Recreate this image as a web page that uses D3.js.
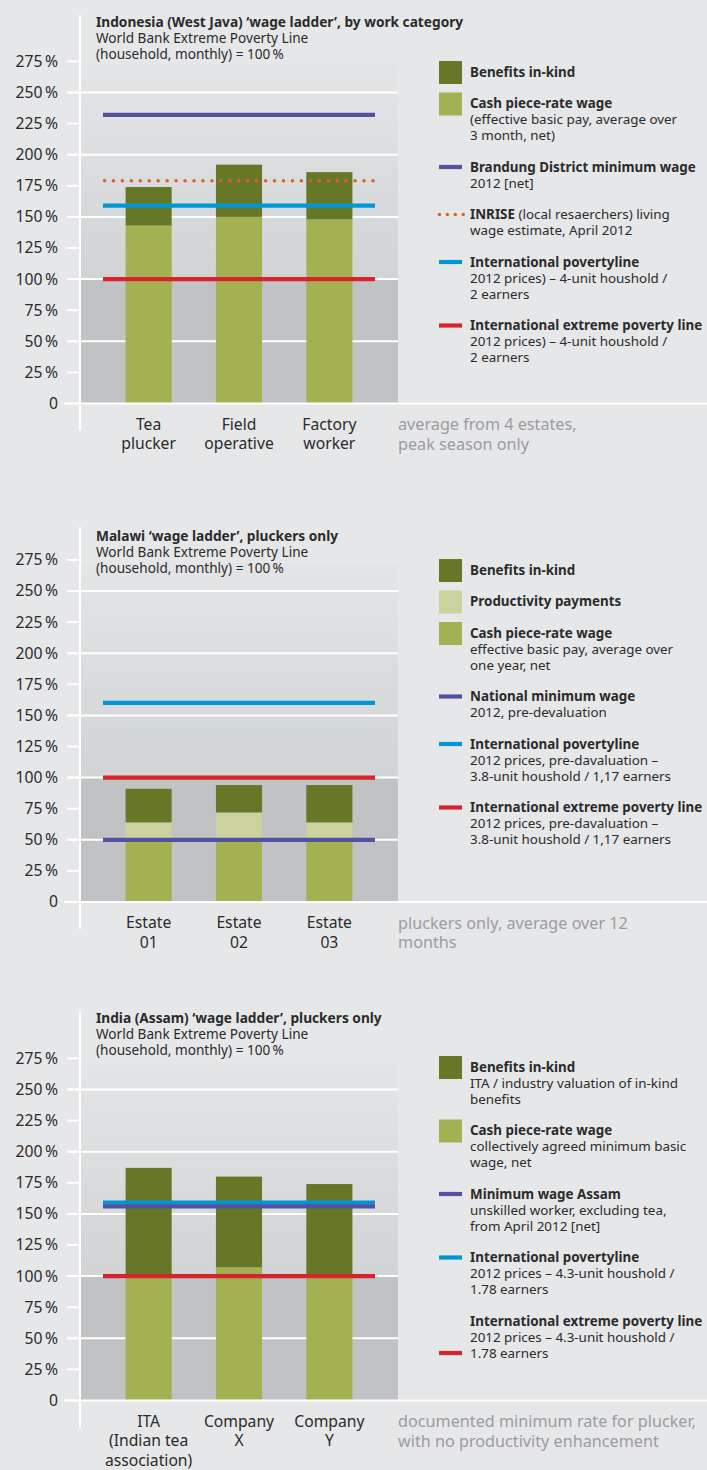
<!DOCTYPE html>
<html>
<head>
<meta charset="utf-8">
<script src="https://cdn.jsdelivr.net/npm/d3@7/dist/d3.min.js"></script>
<style>
  html, body { margin: 0; padding: 0; background: #e6e7e9; }
  svg { display: block; font-family: "Noto Sans", Roboto, sans-serif; }
</style>
</head>
<body>
<svg id="chart" width="707" height="1470"></svg>
<script>
// ---------- DATA ----------
const yTickValues = [0, 25, 50, 75, 100, 125, 150, 175, 200, 225, 250, 275];
const yGridValues = [50, 100, 150, 200, 250];

// Panel 1: Indonesia
const indonesiaTitle = ["Indonesia (West Java) \u2018wage ladder\u2019, by work category", "World Bank Extreme Poverty Line", "(household, monthly) = 100\u2009%"];
const indonesiaCategories = [["Tea", "plucker"], ["Field", "operative"], ["Factory", "worker"]];
const indonesiaCash = [143, 150, 148];
const indonesiaBenefits = [31, 42, 38];
const indonesiaLineKeys = ["minwage", "inrise", "poverty", "extreme"];
const indonesiaLineValues = [232, 179, 159, 100];
const indonesiaNote = ["average from 4 estates,", "peak season only"];

// Panel 2: Malawi
const malawiTitle = ["Malawi \u2018wage ladder\u2019, pluckers only", "World Bank Extreme Poverty Line", "(household, monthly) = 100\u2009%"];
const malawiCategories = [["Estate", "01"], ["Estate", "02"], ["Estate", "03"]];
const malawiCash = [50, 50, 50];
const malawiProductivity = [14, 22, 14];
const malawiBenefits = [27, 22, 30];
const malawiLineKeys = ["minwage", "poverty", "extreme"];
const malawiLineValues = [50, 160, 100];
const malawiNote = ["pluckers only, average over 12", "months"];

// Panel 3: India
const indiaTitle = ["India (Assam) \u2018wage ladder\u2019, pluckers only", "World Bank Extreme Poverty Line", "(household, monthly) = 100\u2009%"];
const indiaCategories = [["ITA", "(Indian tea", "association)"], ["Company", "X"], ["Company", "Y"]];
const indiaCash = [100, 107, 100];
const indiaBenefits = [87, 73, 74];
const indiaLineKeys = ["poverty", "minwage", "extreme"];
const indiaLineValues = [159, 156, 100];
const indiaNote = ["documented minimum rate for plucker,", "with no productivity enhancement"];

// ---------- STYLE ----------
const colors = {
  benefits: "#667828",
  productivity: "#cbd29d",
  cash: "#a3b152",
  minwage: "#5352a0",
  inrise: "#e0602a",
  poverty: "#0096d6",
  extreme: "#d7242c"
};

const indonesiaLegend = [
  { mark: "swatch", key: "benefits", bold: "Benefits in-kind", lines: [] },
  { mark: "swatch", key: "cash", bold: "Cash piece-rate wage", lines: ["(effective basic pay, average over", "3 month, net)"] },
  { mark: "line", key: "minwage", bold: "Brandung District minimum wage", lines: ["2012 [net]"] },
  { mark: "dots", key: "inrise", bold: "INRISE", inline: " (local resaerchers) living", lines: ["wage estimate, April 2012"] },
  { mark: "line", key: "poverty", bold: "International povertyline", lines: ["2012 prices) \u2013 4-unit houshold /", "2 earners"] },
  { mark: "line", key: "extreme", bold: "International extreme poverty line", lines: ["2012 prices) \u2013 4-unit houshold /", "2 earners"] }
];
const malawiLegend = [
  { mark: "swatch", key: "benefits", bold: "Benefits in-kind", lines: [] },
  { mark: "swatch", key: "productivity", bold: "Productivity payments", lines: [] },
  { mark: "swatch", key: "cash", bold: "Cash piece-rate wage", lines: ["effective basic pay, average over", "one year, net"] },
  { mark: "line", key: "minwage", bold: "National minimum wage", lines: ["2012, pre-devaluation"] },
  { mark: "line", key: "poverty", bold: "International povertyline", lines: ["2012 prices, pre-davaluation \u2013", "3.8-unit houshold / 1,17 earners"] },
  { mark: "line", key: "extreme", bold: "International extreme poverty line", lines: ["2012 prices, pre-davaluation \u2013", "3.8-unit houshold / 1,17 earners"] }
];
const indiaLegend = [
  { mark: "swatch", key: "benefits", bold: "Benefits in-kind", lines: ["ITA / industry valuation of in-kind", "benefits"] },
  { mark: "swatch", key: "cash", bold: "Cash piece-rate wage", lines: ["collectively agreed minimum basic", "wage, net"] },
  { mark: "line", key: "minwage", bold: "Minimum wage Assam", lines: ["unskilled worker, excluding tea,", "from April 2012 [net]"] },
  { mark: "line", key: "poverty", bold: "International povertyline", lines: ["2012 prices \u2013 4.3-unit houshold /", "1.78 earners"] },
  { mark: "line", key: "extreme", bold: "International extreme poverty line", lines: ["2012 prices \u2013 4.3-unit houshold /", "1.78 earners"], markLast: true }
];

const panels = [
  { off: 0, titleY: 22, axisTop: 15, title: indonesiaTitle, cats: indonesiaCategories,
    series: [["cash", indonesiaCash], ["benefits", indonesiaBenefits]],
    lineKeys: indonesiaLineKeys, lineValues: indonesiaLineValues, note: indonesiaNote, legend: indonesiaLegend, legendY: 72 },
  { off: 498.5, titleY: 536, axisTop: 527, title: malawiTitle, cats: malawiCategories,
    series: [["cash", malawiCash], ["productivity", malawiProductivity], ["benefits", malawiBenefits]],
    lineKeys: malawiLineKeys, lineValues: malawiLineValues, note: malawiNote, legend: malawiLegend, legendY: 570 },
  { off: 997, titleY: 1018, axisTop: 1011, title: indiaTitle, cats: indiaCategories,
    series: [["cash", indiaCash], ["benefits", indiaBenefits]],
    lineKeys: indiaLineKeys, lineValues: indiaLineValues, note: indiaNote, legend: indiaLegend, legendY: 1067 }
];

// ---------- DRAW ----------
const svg = d3.select("#chart");
const defs = svg.append("defs");
const grad = defs.append("linearGradient").attr("id", "bgGrad").attr("x1", 0).attr("y1", 0).attr("x2", 0).attr("y2", 1);
grad.append("stop").attr("offset", "0%").attr("stop-color", "#e4e5e7");
grad.append("stop").attr("offset", "100%").attr("stop-color", "#d2d3d5");

const plotLeft = 80, plotRight = 398;
const lineLeft = 103, lineRight = 375;
const textColor = "#2b2b2b";
const legendSize = 13.4;
const titleBoldSize = 13.7;
const titleSize = 13.6;
const axisSize = 15.7;
const noteSize = 16.2;

panels.forEach((p, pi) => {
  const g = svg.append("g");
  const y = d3.scaleLinear().domain([0, 275]).range([403.5 + p.off, 61.4 + p.off]);
  const catKeys = p.cats.map(c => c.join(" "));
  const x = d3.scaleBand().domain(catKeys).range([lineLeft, lineRight]).paddingInner(0.49).paddingOuter(0.25);

  // background
  g.append("rect").attr("x", plotLeft).attr("width", plotRight - plotLeft)
    .attr("y", y(272)).attr("height", y(100) - y(272)).attr("fill", "url(#bgGrad)");
  g.append("rect").attr("x", plotLeft).attr("width", plotRight - plotLeft)
    .attr("y", y(100)).attr("height", y(0) - y(100)).attr("fill", "#c1c2c4");

  // gridlines
  g.selectAll(".grid").data(yGridValues).join("line")
    .attr("x1", 67).attr("x2", plotRight).attr("y1", d => y(d)).attr("y2", d => y(d))
    .attr("stroke", "#ffffff").attr("stroke-width", 2);

  // ticks
  g.selectAll(".tick").data(yTickValues).join("line")
    .attr("x1", 67).attr("x2", plotLeft).attr("y1", d => y(d)).attr("y2", d => y(d))
    .attr("stroke", "#ffffff").attr("stroke-width", 2);
  g.selectAll(".tickLabel").data(yTickValues).join("text")
    .attr("x", 58).attr("y", d => y(d)).attr("dy", "0.35em").attr("text-anchor", "end")
    .attr("font-size", axisSize).attr("fill", textColor)
    .text(d => d === 0 ? "0" : d + "\u2009%");

  // axis vertical line
  g.append("line").attr("x1", plotLeft).attr("x2", plotLeft).attr("y1", p.axisTop).attr("y2", y(0) + 27)
    .attr("stroke", "#ffffff").attr("stroke-width", 2);

  // stacked bars
  const keys = p.series.map(s => s[0]);
  const rows = catKeys.map((c, i) => {
    const r = { cat: c };
    p.series.forEach(s => { r[s[0]] = s[1][i]; });
    return r;
  });
  const stacked = d3.stack().keys(keys)(rows);
  g.selectAll(".layer").data(stacked).join("g")
    .attr("fill", d => colors[d.key])
    .selectAll("rect").data(d => d).join("rect")
    .attr("x", d => x(d.data.cat)).attr("width", x.bandwidth())
    .attr("y", d => y(d[1])).attr("height", d => y(d[0]) - y(d[1]));

  // baseline
  g.append("line").attr("x1", 64).attr("x2", 707).attr("y1", y(0)).attr("y2", y(0))
    .attr("stroke", "#ffffff").attr("stroke-width", 2);

  // reference lines
  p.lineKeys.forEach((k, i) => {
    const v = p.lineValues[i];
    const ln = g.append("line").attr("x1", lineLeft).attr("x2", lineRight)
      .attr("y1", y(v)).attr("y2", y(v)).attr("stroke", colors[k]);
    if (k === "inrise") {
      ln.attr("stroke-width", 3.6).attr("stroke-linecap", "round").attr("stroke-dasharray", "0 8.95")
        .attr("x1", lineLeft + 1.5).attr("x2", lineRight);
    } else {
      ln.attr("stroke-width", 4.2);
    }
  });

  // title
  p.title.forEach((t, i) => {
    g.append("text").attr("x", 96).attr("y", p.titleY + i * 16.2).attr("dy", "0.35em")
      .attr("font-size", i === 0 ? titleBoldSize : titleSize).attr("font-weight", i === 0 ? 700 : 400).attr("fill", textColor).text(t);
  });

  // category labels
  p.cats.forEach((c, i) => {
    const cx = x(catKeys[i]) + x.bandwidth() / 2;
    c.forEach((line, j) => {
      g.append("text").attr("x", cx).attr("y", y(0) + 21 + j * 19.5).attr("dy", "0.35em")
        .attr("text-anchor", "middle").attr("font-size", axisSize).attr("fill", textColor).text(line);
    });
  });

  // note
  p.note.forEach((line, j) => {
    g.append("text").attr("x", 398).attr("y", y(0) + 21 + j * 19.5).attr("dy", "0.35em")
      .attr("font-size", noteSize).attr("fill", "#9b9c9e").text(line);
  });

  // legend
  let ly = p.legendY;
  p.legend.forEach(item => {
    const n = 1 + item.lines.length;
    const my = item.markLast ? ly + (n - 1) * 16 : ly;
    if (item.mark === "swatch") {
      g.append("rect").attr("x", 439).attr("y", my - 11).attr("width", 23).attr("height", 23).attr("fill", colors[item.key]);
    } else if (item.mark === "line") {
      g.append("line").attr("x1", 439).attr("x2", 462).attr("y1", my).attr("y2", my)
        .attr("stroke", colors[item.key]).attr("stroke-width", 4.2);
    } else {
      g.append("line").attr("x1", 439.5).attr("x2", 464).attr("y1", my).attr("y2", my)
        .attr("stroke", colors[item.key]).attr("stroke-width", 3.6).attr("stroke-linecap", "round").attr("stroke-dasharray", "0 7.9");
    }
    const t = g.append("text").attr("x", 470).attr("y", ly).attr("dy", "0.35em").attr("font-size", legendSize).attr("fill", textColor);
    t.append("tspan").attr("font-weight", 700).text(item.bold);
    if (item.inline) t.append("tspan").attr("font-weight", 400).text(item.inline);
    item.lines.forEach((line, j) => {
      g.append("text").attr("x", 470).attr("y", ly + (j + 1) * 16).attr("dy", "0.35em")
        .attr("font-size", legendSize).attr("fill", textColor).text(line);
    });
    ly += n * 16 + 15.5;
  });
});
</script>
</body>
</html>
